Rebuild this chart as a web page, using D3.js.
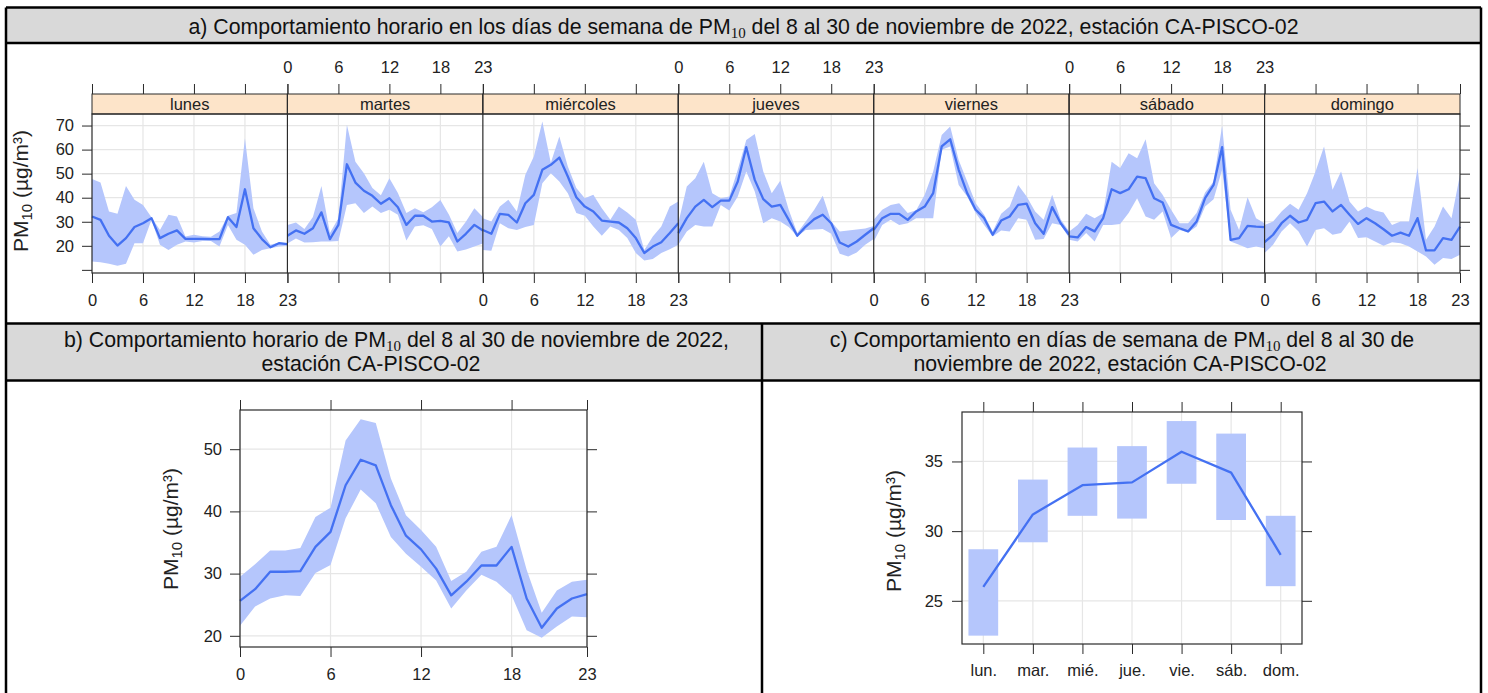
<!DOCTYPE html>
<html>
<head>
<meta charset="utf-8">
<script src="https://cdn.jsdelivr.net/npm/d3@7"></script>
<style>
body { margin: 0; background: #fff; }
svg { display: block; font-family: "Liberation Sans", Arial, sans-serif; }
</style>
</head>
<body>
<div id="app"></div>
<script>
// categories
var days = ["lunes", "martes", "miércoles", "jueves", "viernes", "sábado", "domingo"];
var dayAbbr = ["lun.", "mar.", "mié.", "jue.", "vie.", "sáb.", "dom."];
var hours = [0, 1, 2, 3, 4, 5, 6, 7, 8, 9, 10, 11, 12, 13, 14, 15, 16, 17, 18, 19, 20, 21, 22, 23];
var hourTicks = [0, 6, 12, 18, 23];
var weekTicks = [10, 20, 30, 40, 50, 60, 70];
var hourYTicks = [20, 30, 40, 50];
var dayYTicks = [25, 30, 35];

// a) hour x weekday, one row per day
var weekMean = [
  [32.2, 30.8, 24.2, 20.1, 23.2, 27.8, 29.4, 31.5, 23.2, 25.0, 26.4, 22.9, 22.9, 22.9, 22.8, 22.8, 31.9, 27.8, 43.5, 27.3, 22.8, 19.4, 21.1, 20.7],
  [24.2, 26.4, 25.0, 27.3, 33.9, 22.8, 28.7, 53.9, 46.3, 42.9, 40.8, 37.5, 39.8, 36.0, 28.7, 32.5, 32.5, 30.1, 30.4, 29.7, 21.8, 25.0, 28.7, 26.4],
  [26.6, 25.0, 33.3, 32.9, 29.7, 37.7, 41.2, 51.6, 53.7, 56.7, 48.8, 40.2, 36.3, 34.3, 30.5, 30.1, 29.7, 27.3, 23.2, 17.0, 19.7, 21.5, 25.3, 29.4],
  [25.3, 31.5, 36.3, 39.1, 36.1, 38.8, 38.8, 46.7, 61.0, 47.4, 39.4, 36.3, 37.0, 30.8, 24.2, 28.0, 31.1, 32.9, 29.4, 21.4, 19.7, 21.8, 24.6, 27.3],
  [26.6, 31.5, 33.3, 33.3, 30.8, 34.3, 36.3, 41.9, 61.3, 64.3, 51.6, 41.9, 35.0, 31.5, 24.6, 30.5, 32.2, 37.0, 37.5, 29.4, 25.0, 36.1, 29.4, 24.6],
  [23.9, 23.5, 27.8, 26.0, 31.5, 43.5, 41.9, 43.5, 48.8, 48.1, 39.8, 38.0, 28.7, 27.3, 26.0, 30.1, 39.8, 45.3, 61.0, 22.5, 23.2, 28.3, 28.0, 27.8],
  [21.5, 24.6, 29.4, 32.5, 29.7, 30.8, 37.7, 38.4, 34.3, 37.0, 32.9, 29.1, 31.5, 29.4, 26.9, 24.2, 25.5, 24.2, 31.5, 18.1, 18.1, 23.2, 22.5, 28.0]
];
var weekLow = [
  [13.5, 13.2, 12.5, 11.7, 12.5, 21.1, 21.1, 30.8, 20.4, 18.3, 20.4, 21.8, 21.4, 22.0, 22.0, 19.7, 28.7, 22.5, 20.4, 16.3, 18.3, 19.0, 19.7, 20.0],
  [21.0, 23.0, 21.4, 21.5, 21.8, 21.8, 22.0, 37.0, 37.7, 33.6, 36.3, 33.6, 35.0, 32.9, 22.2, 28.0, 28.5, 27.0, 19.7, 24.0, 17.6, 18.5, 19.7, 21.0],
  [18.3, 18.0, 29.4, 27.3, 26.6, 27.8, 28.7, 46.0, 50.2, 46.7, 41.9, 33.6, 32.5, 28.0, 24.2, 28.0, 26.6, 23.2, 17.0, 13.9, 14.5, 17.0, 18.6, 20.4],
  [20.4, 26.0, 28.7, 28.0, 28.0, 37.0, 34.7, 40.5, 50.9, 42.6, 29.4, 31.5, 30.1, 27.8, 23.9, 26.6, 26.8, 27.0, 25.0, 16.7, 15.6, 17.2, 20.4, 22.8],
  [21.8, 28.7, 30.8, 28.7, 29.4, 31.5, 31.5, 31.5, 59.9, 61.3, 45.3, 40.5, 33.6, 28.7, 23.9, 26.4, 26.0, 31.5, 30.8, 22.5, 22.8, 29.4, 28.7, 23.2],
  [22.5, 21.8, 25.3, 21.8, 28.7, 28.7, 29.1, 33.6, 39.8, 32.2, 30.8, 34.3, 23.2, 26.6, 25.5, 28.0, 36.3, 39.4, 51.6, 21.8, 20.4, 19.0, 19.7, 19.0],
  [17.0, 20.4, 26.0, 29.4, 26.0, 19.7, 26.6, 27.3, 24.6, 25.3, 30.1, 23.2, 23.6, 21.8, 20.0, 21.5, 21.1, 19.7, 17.6, 15.6, 12.1, 14.9, 14.5, 16.3]
];
var weekHigh = [
  [47.8, 46.3, 34.3, 33.3, 44.9, 39.1, 37.0, 31.9, 26.6, 32.9, 32.2, 23.9, 24.6, 24.0, 23.8, 26.0, 32.5, 33.6, 64.7, 35.6, 26.0, 20.4, 21.4, 21.1],
  [28.7, 29.7, 27.0, 32.0, 44.9, 25.3, 31.5, 70.3, 55.0, 50.2, 44.0, 41.0, 48.1, 42.0, 33.6, 35.6, 34.0, 36.0, 39.0, 33.0, 25.3, 30.0, 35.6, 32.0],
  [31.5, 30.1, 36.3, 39.1, 34.3, 49.5, 57.1, 71.7, 54.5, 65.4, 53.0, 44.0, 39.8, 41.2, 35.6, 30.8, 36.3, 33.9, 30.8, 18.3, 23.9, 28.0, 36.3, 38.4],
  [29.4, 44.7, 48.1, 55.0, 41.9, 39.8, 40.5, 51.6, 64.0, 66.5, 50.9, 41.9, 47.1, 35.0, 25.3, 30.1, 35.0, 40.8, 30.1, 26.0, 26.4, 26.8, 27.2, 28.2],
  [30.8, 35.0, 37.0, 37.7, 33.6, 34.8, 41.2, 50.9, 66.1, 69.6, 55.7, 46.7, 37.7, 32.9, 26.0, 33.3, 36.3, 45.3, 40.5, 34.3, 30.8, 41.2, 31.0, 26.0],
  [26.0, 28.7, 33.3, 31.5, 33.5, 55.0, 52.3, 58.5, 56.4, 64.3, 46.0, 41.2, 35.0, 29.4, 29.4, 33.6, 42.2, 46.7, 69.9, 35.0, 26.6, 40.2, 31.5, 29.4],
  [28.7, 30.1, 34.3, 37.5, 35.0, 41.9, 50.9, 61.3, 43.3, 50.9, 38.4, 34.3, 36.3, 34.7, 33.9, 28.7, 30.1, 30.1, 52.3, 22.5, 28.0, 36.3, 31.5, 49.5]
];

// b) hour of day
var hourMean = [25.6, 27.5, 30.3, 30.3, 30.4, 34.3, 36.7, 44.2, 48.3, 47.4, 41.0, 36.1, 33.9, 30.8, 26.5, 28.7, 31.3, 31.3, 34.3, 26.0, 21.3, 24.4, 26.0, 26.7];
var hourLow = [21.6, 24.7, 26.0, 26.5, 26.4, 30.1, 31.4, 38.9, 43.5, 41.3, 35.9, 33.2, 31.1, 28.9, 24.4, 27.3, 29.8, 28.7, 26.5, 20.9, 19.7, 21.5, 23.1, 23.0];
var hourHigh = [29.5, 31.5, 33.7, 33.7, 34.1, 39.1, 40.6, 51.4, 54.8, 54.2, 45.3, 39.4, 37.0, 34.3, 28.8, 30.3, 33.5, 34.3, 39.4, 30.6, 23.7, 27.3, 28.7, 29.0];

// c) weekday
var dayMean = [26.0, 31.2, 33.3, 33.5, 35.7, 34.2, 28.3];
var dayLow = [22.5, 29.2, 31.1, 30.9, 33.4, 30.8, 26.05];
var dayHigh = [28.7, 33.7, 36.0, 36.1, 37.9, 37.0, 31.1];

var lineColor = "#4471f2";
var bandColor = "#b5c6fc";
var stripColor = "#fde4c9";
var headColor = "#d9d9d9";
var gridColor = "#e6e6e6";
var frameColor = "#2a2a2a";
var textColor = "#222";
var headSize = 21.3;
var tickSize = 16.5;
var labSize = 21;

var W = 1488, H = 693;
var svg = d3.select("#app").append("svg").attr("width", W).attr("height", H);
svg.append("rect").attr("width", W).attr("height", H).attr("fill", "#fff");

// writes "PM" + subscript 10 into a text element
function pmLabel(text, before, after, subSize, subFamily, shift) {
  text.append("tspan").text(before + "PM");
  text.append("tspan").attr("font-size", subSize).attr("font-family", subFamily).attr("dy", shift).text("10");
  text.append("tspan").attr("dy", -shift).text(after);
}

function styleAxis(g, size) {
  g.attr("font-family", null).attr("font-size", size);
  g.select(".domain").remove();
  g.selectAll(".tick line").attr("stroke", frameColor);
  g.selectAll(".tick text").attr("fill", textColor);
}

//TABLE
var tL = 6, tR = 1481, tTop = 7.5;
svg.append("rect").attr("x", tL).attr("y", tTop).attr("width", tR - tL).attr("height", 43 - tTop).attr("fill", headColor);
svg.append("rect").attr("x", tL).attr("y", 323.5).attr("width", tR - tL).attr("height", 57).attr("fill", headColor);
var borders = [
  [tL, tTop, tR, tTop], [tL, 43, tR, 43], [tL, 323.5, tR, 323.5], [tL, 380.5, tR, 380.5],
  [tL, tTop, tL, H], [tR, tTop, tR, H], [762, 323.5, 762, H]
];
svg.selectAll(".border").data(borders).enter().append("line")
  .attr("x1", function (d) { return d[0]; }).attr("y1", function (d) { return d[1]; })
  .attr("x2", function (d) { return d[2]; }).attr("y2", function (d) { return d[3]; })
  .attr("stroke", "#000").attr("stroke-width", 2.5);

var titleA = svg.append("text").attr("x", 743.5).attr("y", 33.5).attr("text-anchor", "middle").attr("font-size", headSize).attr("fill", "#111");
pmLabel(titleA, "a) Comportamiento horario en los días de semana de ", " del 8 al 30 de noviembre de 2022, estación CA-PISCO-02", 15, "Liberation Serif", 4);

var titleB1 = svg.append("text").attr("x", 396.5).attr("y", 347).attr("text-anchor", "middle").attr("font-size", headSize).attr("fill", "#111");
pmLabel(titleB1, "b) Comportamiento horario de ", " del 8 al 30 de noviembre de 2022,", 15, "Liberation Serif", 4);
svg.append("text").attr("x", 371).attr("y", 371).attr("text-anchor", "middle").attr("font-size", headSize).attr("fill", "#111").text("estación CA-PISCO-02");

var titleC1 = svg.append("text").attr("x", 1122).attr("y", 347).attr("text-anchor", "middle").attr("font-size", headSize).attr("fill", "#111");
pmLabel(titleC1, "c) Comportamiento en días de semana de ", " del 8 al 30 de", 15, "Liberation Serif", 4);
svg.append("text").attr("x", 1120).attr("y", 371).attr("text-anchor", "middle").attr("font-size", headSize).attr("fill", "#111").text("noviembre de 2022, estación CA-PISCO-02");

//PANEL A
var aLeft = 92, aRight = 1460, aStripTop = 94, aTop = 114, aBottom = 273;
var panelW = (aRight - aLeft) / days.length;
var yA = d3.scaleLinear().domain([8.7, 74.8]).range([aBottom, aTop]);
var gA = svg.append("g");

gA.selectAll(".hgrid").data(weekTicks.slice(1)).enter().append("line")
  .attr("x1", aLeft).attr("x2", aRight)
  .attr("y1", function (d) { return yA(d); }).attr("y2", function (d) { return yA(d); })
  .attr("stroke", gridColor).attr("stroke-width", 1.2);

days.forEach(function (day, i) {
  var x = d3.scaleLinear().domain([0, 23]).range([aLeft + i * panelW, aLeft + (i + 1) * panelW]);
  var g = gA.append("g");

  g.selectAll(".vgrid").data([6, 12, 18]).enter().append("line")
    .attr("x1", function (d) { return x(d); }).attr("x2", function (d) { return x(d); })
    .attr("y1", aTop).attr("y2", aBottom)
    .attr("stroke", gridColor).attr("stroke-width", 1.2);

  g.append("path").datum(hours)
    .attr("d", d3.area()
      .x(function (h) { return x(h); })
      .y0(function (h) { return yA(weekLow[i][h]); })
      .y1(function (h) { return yA(weekHigh[i][h]); }))
    .attr("fill", bandColor);

  g.append("path").datum(hours)
    .attr("d", d3.line()
      .x(function (h) { return x(h); })
      .y(function (h) { return yA(weekMean[i][h]); }))
    .attr("fill", "none").attr("stroke", lineColor).attr("stroke-width", 2.3)
    .attr("stroke-linejoin", "round");

  //STRIP
  g.append("rect").attr("x", x(0)).attr("y", aStripTop).attr("width", panelW).attr("height", aTop - aStripTop)
    .attr("fill", stripColor).attr("stroke", frameColor).attr("stroke-width", 1);
  g.append("text").attr("x", x(11.5)).attr("y", aStripTop + 15.5).attr("text-anchor", "middle")
    .attr("font-size", 16.5).attr("fill", textColor).text(day);

  var bottom = d3.axisBottom(x).tickValues(hourTicks).tickSize(10).tickPadding(11)
    .tickFormat(i % 2 === 0 ? d3.format("d") : function () { return ""; });
  g.append("g").attr("transform", "translate(0," + aBottom + ")").call(bottom).call(styleAxis, tickSize);

  var top = d3.axisTop(x).tickValues(hourTicks).tickSize(10).tickPadding(11)
    .tickFormat(i % 2 === 1 ? d3.format("d") : function () { return ""; });
  g.append("g").attr("transform", "translate(0," + aStripTop + ")").call(top).call(styleAxis, tickSize);
});

gA.append("rect").attr("x", aLeft).attr("y", aTop).attr("width", aRight - aLeft).attr("height", aBottom - aTop)
  .attr("fill", "none").attr("stroke", frameColor).attr("stroke-width", 1.2);
gA.selectAll(".sep").data(d3.range(1, days.length)).enter().append("line")
  .attr("x1", function (d) { return aLeft + d * panelW; }).attr("x2", function (d) { return aLeft + d * panelW; })
  .attr("y1", aStripTop).attr("y2", aBottom)
  .attr("stroke", frameColor).attr("stroke-width", 1.2);

gA.append("g").attr("transform", "translate(" + aLeft + ",0)")
  .call(d3.axisLeft(yA).tickValues(weekTicks).tickSize(10).tickPadding(8)
    .tickFormat(function (d) { return d === 10 ? "" : d; }))
  .call(styleAxis, tickSize);
gA.append("g").attr("transform", "translate(" + aRight + ",0)")
  .call(d3.axisRight(yA).tickValues(weekTicks).tickSize(10).tickFormat(function () { return ""; }))
  .call(styleAxis, tickSize);

var ylabA = svg.append("text").attr("transform", "translate(28,191) rotate(-90)").attr("text-anchor", "middle")
  .attr("font-size", labSize).attr("fill", textColor);
pmLabel(ylabA, "", " (µg/m³)", 15, null, 4);

//PANEL B
var bLeft = 240, bRight = 587, bTop = 410, bBottom = 647;
var xB = d3.scaleLinear().domain([0, 23]).range([bLeft, bRight]);
var yB = d3.scaleLinear().domain([18.2, 56.3]).range([bBottom, bTop]);
var gB = svg.append("g");

gB.selectAll(".vgrid").data(hourTicks).enter().append("line")
  .attr("x1", function (d) { return xB(d); }).attr("x2", function (d) { return xB(d); })
  .attr("y1", bTop).attr("y2", bBottom).attr("stroke", gridColor).attr("stroke-width", 1.2);
gB.selectAll(".hgrid").data(hourYTicks).enter().append("line")
  .attr("x1", bLeft).attr("x2", bRight)
  .attr("y1", function (d) { return yB(d); }).attr("y2", function (d) { return yB(d); })
  .attr("stroke", gridColor).attr("stroke-width", 1.2);

gB.append("path").datum(hours)
  .attr("d", d3.area()
    .x(function (h) { return xB(h); })
    .y0(function (h) { return yB(hourLow[h]); })
    .y1(function (h) { return yB(hourHigh[h]); }))
  .attr("fill", bandColor);
gB.append("path").datum(hours)
  .attr("d", d3.line()
    .x(function (h) { return xB(h); })
    .y(function (h) { return yB(hourMean[h]); }))
  .attr("fill", "none").attr("stroke", lineColor).attr("stroke-width", 2.3).attr("stroke-linejoin", "round");

gB.append("rect").attr("x", bLeft).attr("y", bTop).attr("width", bRight - bLeft).attr("height", bBottom - bTop)
  .attr("fill", "none").attr("stroke", frameColor).attr("stroke-width", 1.2);
gB.append("g").attr("transform", "translate(0," + bBottom + ")")
  .call(d3.axisBottom(xB).tickValues(hourTicks).tickSize(10).tickPadding(11)).call(styleAxis, tickSize);
gB.append("g").attr("transform", "translate(0," + bTop + ")")
  .call(d3.axisTop(xB).tickValues(hourTicks).tickSize(10).tickFormat(function () { return ""; })).call(styleAxis, tickSize);
gB.append("g").attr("transform", "translate(" + bLeft + ",0)")
  .call(d3.axisLeft(yB).tickValues(hourYTicks).tickSize(10).tickPadding(8)).call(styleAxis, tickSize);
gB.append("g").attr("transform", "translate(" + bRight + ",0)")
  .call(d3.axisRight(yB).tickValues(hourYTicks).tickSize(10).tickFormat(function () { return ""; })).call(styleAxis, tickSize);

var ylabB = svg.append("text").attr("transform", "translate(178,529) rotate(-90)").attr("text-anchor", "middle")
  .attr("font-size", labSize).attr("fill", textColor);
pmLabel(ylabB, "", " (µg/m³)", 15, null, 4);

//PANEL C
var cLeft = 962, cRight = 1302, cTop = 412, cBottom = 644;
var xC = d3.scalePoint().domain(dayAbbr).range([cLeft, cRight]).padding(0.43);
var yC = d3.scaleLinear().domain([21.9, 38.55]).range([cBottom, cTop]);
var barW = xC.step() * 0.6;
var gC = svg.append("g");

gC.selectAll(".vgrid").data(dayAbbr).enter().append("line")
  .attr("x1", function (d) { return xC(d); }).attr("x2", function (d) { return xC(d); })
  .attr("y1", cTop).attr("y2", cBottom).attr("stroke", gridColor).attr("stroke-width", 1.2);
gC.selectAll(".hgrid").data(dayYTicks).enter().append("line")
  .attr("x1", cLeft).attr("x2", cRight)
  .attr("y1", function (d) { return yC(d); }).attr("y2", function (d) { return yC(d); })
  .attr("stroke", gridColor).attr("stroke-width", 1.2);

gC.selectAll(".bar").data(dayAbbr).enter().append("rect")
  .attr("x", function (d) { return xC(d) - barW / 2; })
  .attr("y", function (d, i) { return yC(dayHigh[i]); })
  .attr("width", barW)
  .attr("height", function (d, i) { return yC(dayLow[i]) - yC(dayHigh[i]); })
  .attr("fill", bandColor);
gC.append("path").datum(dayAbbr)
  .attr("d", d3.line()
    .x(function (d) { return xC(d); })
    .y(function (d, i) { return yC(dayMean[i]); }))
  .attr("fill", "none").attr("stroke", lineColor).attr("stroke-width", 2.3).attr("stroke-linejoin", "round");

gC.append("rect").attr("x", cLeft).attr("y", cTop).attr("width", cRight - cLeft).attr("height", cBottom - cTop)
  .attr("fill", "none").attr("stroke", frameColor).attr("stroke-width", 1.2);
gC.append("g").attr("transform", "translate(0," + cBottom + ")")
  .call(d3.axisBottom(xC).tickSize(10).tickPadding(10)).call(styleAxis, tickSize);
gC.append("g").attr("transform", "translate(0," + cTop + ")")
  .call(d3.axisTop(xC).tickSize(10).tickFormat(function () { return ""; })).call(styleAxis, tickSize);
gC.append("g").attr("transform", "translate(" + cLeft + ",0)")
  .call(d3.axisLeft(yC).tickValues(dayYTicks).tickSize(10).tickPadding(9)).call(styleAxis, tickSize);
gC.append("g").attr("transform", "translate(" + cRight + ",0)")
  .call(d3.axisRight(yC).tickValues(dayYTicks).tickSize(10).tickFormat(function () { return ""; })).call(styleAxis, tickSize);

var ylabC = svg.append("text").attr("transform", "translate(901,531) rotate(-90)").attr("text-anchor", "middle")
  .attr("font-size", labSize).attr("fill", textColor);
pmLabel(ylabC, "", " (µg/m³)", 15, null, 4);
</script>
</body>
</html>
